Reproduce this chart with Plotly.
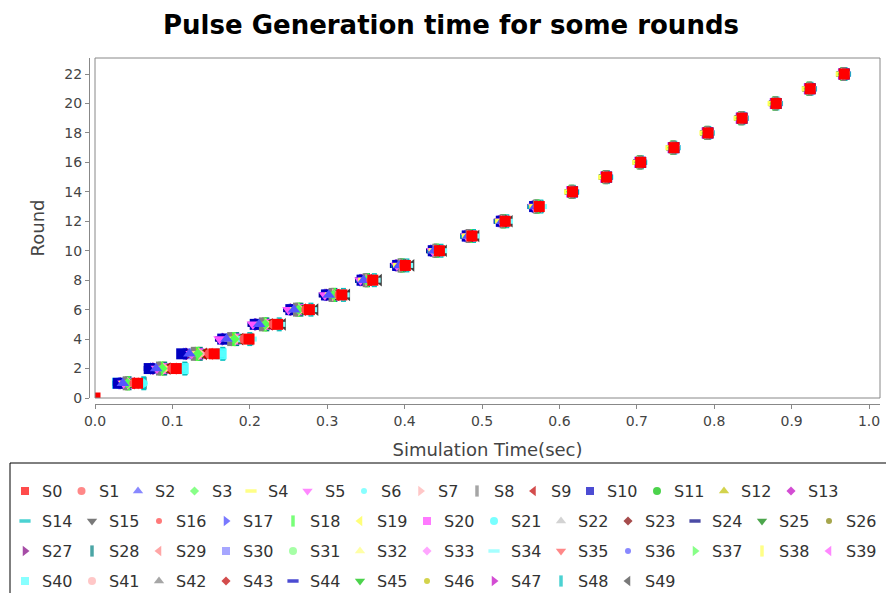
import plotly.graph_objects as go

W, H = 886, 593

# ---------------- data (pulse times in milliseconds) ----------------
series_names = ["S0", "S1", "S2", "S3", "S4", "S5", "S6", "S7", "S8", "S9",
                "S10", "S11", "S12", "S13", "S14", "S15", "S16", "S17", "S18", "S19",
                "S20", "S21", "S22", "S23", "S24", "S25", "S26", "S27", "S28", "S29",
                "S30", "S31", "S32", "S33", "S34", "S35", "S36", "S37", "S38", "S39",
                "S40", "S41", "S42", "S43", "S44", "S45", "S46", "S47", "S48", "S49"]

s0_rounds = list(range(0, 23))      # S0 also fires at round 0
other_rounds = list(range(1, 23))

pulse_ms = {
    "S0":  [0, 55, 105, 154, 199, 236, 277, 319, 359, 401, 445, 487, 530, 574, 617, 661, 705, 748, 792, 836, 880, 924, 968],
    "S1":  [51, 100, 148, 193, 231, 273, 316, 357, 399, 444, 486, 529, 573, 617, 661, 705, 748, 792, 836, 880, 924, 968],
    "S2":  [36, 79, 122, 170, 212, 257, 302, 347, 393, 438, 482, 526, 569, 617, 661, 705, 748, 792, 836, 880, 924, 968],
    "S3":  [42, 87, 133, 180, 220, 263, 308, 351, 396, 440, 483, 527, 570, 615, 659, 703, 746, 790, 834, 878, 922, 966],
    "S4":  [40, 84, 129, 176, 217, 261, 306, 349, 394, 440, 483, 526, 570, 615, 659, 703, 746, 790, 834, 878, 922, 966],
    "S5":  [37, 80, 125, 161, 204, 250, 297, 343, 390, 436, 480, 524, 567, 617, 661, 705, 748, 792, 836, 880, 924, 968],
    "S6":  [63, 115, 164, 188, 237, 278, 320, 360, 402, 446, 488, 531, 575, 618, 662, 706, 749, 793, 837, 881, 925, 969],
    "S7":  [45, 91, 137, 184, 223, 266, 310, 353, 397, 441, 484, 528, 571, 616, 660, 704, 747, 791, 835, 879, 923, 967],
    "S8":  [39, 82, 127, 174, 215, 259, 305, 349, 394, 439, 482, 526, 569, 616, 660, 704, 747, 791, 835, 879, 923, 967],
    "S9":  [48, 94, 141, 188, 226, 269, 312, 354, 398, 442, 485, 528, 572, 616, 660, 704, 747, 791, 835, 879, 923, 967],
    "S10": [30, 70, 112, 165, 207, 253, 299, 345, 391, 437, 481, 525, 568, 617, 661, 705, 748, 792, 836, 880, 924, 968],
    "S11": [49, 96, 143, 190, 228, 270, 314, 355, 398, 443, 485, 528, 572, 616, 660, 704, 747, 791, 835, 879, 923, 967],
    "S12": [41, 86, 131, 178, 218, 262, 307, 350, 395, 440, 483, 527, 570, 615, 659, 703, 746, 790, 834, 878, 922, 966],
    "S13": [44, 89, 135, 182, 222, 265, 309, 352, 396, 441, 484, 527, 571, 616, 660, 704, 747, 791, 835, 879, 923, 967],
    "S14": [35, 77, 120, 169, 210, 255, 301, 346, 392, 438, 481, 525, 568, 616, 660, 704, 747, 791, 835, 879, 923, 967],
    "S15": [46, 93, 139, 186, 225, 268, 311, 353, 397, 442, 485, 528, 572, 616, 660, 704, 747, 791, 835, 879, 923, 967],
    "S16": [52, 101, 150, 195, 233, 274, 317, 357, 400, 444, 486, 529, 573, 617, 661, 705, 748, 792, 836, 880, 924, 968],
    "S17": [34, 75, 118, 167, 209, 254, 300, 345, 392, 437, 481, 525, 568, 616, 660, 704, 747, 791, 835, 879, 923, 967],
    "S18": [42, 85, 132, 179, 219, 262, 308, 351, 395, 441, 484, 527, 571, 615, 659, 703, 746, 790, 834, 878, 922, 966],
    "S19": [38, 81, 124, 173, 213, 259, 303, 349, 394, 438, 483, 526, 570, 616, 660, 704, 747, 791, 835, 879, 923, 967],
    "S20": [43, 88, 134, 181, 221, 264, 309, 351, 396, 441, 484, 527, 571, 616, 660, 704, 747, 791, 835, 879, 923, 967],
    "S21": [61, 113, 162, 199, 236, 277, 319, 359, 401, 445, 487, 530, 574, 617, 661, 705, 748, 792, 836, 880, 924, 968],
    "S22": [46, 91, 138, 185, 224, 267, 311, 353, 397, 442, 485, 528, 572, 616, 660, 704, 747, 791, 835, 879, 923, 967],
    "S23": [50, 98, 146, 191, 230, 272, 315, 356, 399, 443, 486, 529, 573, 616, 660, 704, 747, 791, 835, 879, 923, 967],
    "S24": [32, 73, 116, 165, 207, 253, 299, 345, 391, 437, 481, 525, 568, 616, 660, 704, 747, 791, 835, 879, 923, 967],
    "S25": [40, 85, 130, 177, 217, 260, 307, 350, 395, 440, 483, 527, 570, 616, 660, 704, 747, 791, 835, 879, 923, 967],
    "S26": [48, 95, 142, 188, 227, 270, 313, 355, 398, 443, 486, 529, 573, 616, 660, 704, 747, 791, 835, 879, 923, 967],
    "S27": [36, 78, 121, 168, 211, 256, 302, 347, 393, 437, 482, 526, 569, 616, 660, 704, 747, 791, 835, 879, 923, 967],
    "S28": [44, 90, 136, 183, 222, 266, 310, 352, 397, 441, 484, 528, 571, 616, 660, 704, 747, 791, 835, 879, 923, 967],
    "S29": [53, 102, 149, 196, 233, 275, 318, 358, 400, 445, 487, 530, 574, 617, 661, 705, 748, 792, 836, 880, 924, 968],
    "S30": [35, 76, 120, 169, 211, 255, 301, 346, 392, 438, 481, 525, 568, 616, 660, 704, 747, 791, 835, 879, 923, 967],
    "S31": [45, 92, 137, 184, 224, 266, 311, 354, 398, 441, 485, 529, 571, 615, 659, 703, 746, 790, 834, 878, 922, 966],
    "S32": [38, 83, 128, 175, 216, 260, 305, 350, 394, 440, 483, 527, 570, 616, 660, 704, 747, 791, 835, 879, 923, 967],
    "S33": [41, 87, 131, 177, 218, 263, 307, 350, 396, 440, 483, 528, 570, 616, 660, 704, 747, 791, 835, 879, 923, 967],
    "S34": [59, 110, 159, 200, 237, 278, 320, 360, 402, 446, 488, 531, 575, 617, 661, 705, 748, 792, 836, 880, 924, 968],
    "S35": [38, 80, 126, 172, 215, 258, 304, 348, 393, 439, 482, 527, 569, 616, 660, 704, 747, 791, 835, 879, 923, 967],
    "S36": [33, 76, 118, 166, 208, 254, 300, 346, 392, 437, 481, 525, 568, 616, 660, 704, 747, 791, 835, 879, 923, 967],
    "S37": [47, 93, 140, 187, 225, 268, 312, 354, 398, 442, 485, 529, 572, 615, 659, 703, 746, 790, 834, 878, 922, 966],
    "S38": [42, 88, 133, 179, 220, 264, 308, 352, 397, 441, 484, 528, 571, 616, 660, 704, 747, 791, 835, 879, 923, 967],
    "S39": [37, 78, 123, 171, 211, 256, 303, 347, 392, 439, 482, 525, 569, 616, 660, 704, 747, 791, 835, 879, 923, 967],
    "S40": [29, 114, 163, 186, 235, 276, 318, 358, 400, 444, 486, 529, 573, 617, 661, 705, 748, 792, 836, 880, 924, 968],
    "S41": [47, 94, 141, 189, 226, 269, 312, 354, 399, 442, 485, 528, 572, 616, 660, 704, 747, 791, 835, 879, 923, 967],
    "S42": [50, 99, 145, 192, 230, 272, 316, 356, 400, 444, 486, 529, 573, 617, 661, 705, 748, 792, 836, 880, 924, 968],
    "S43": [52, 101, 151, 195, 234, 274, 317, 357, 401, 444, 487, 530, 573, 617, 661, 705, 748, 792, 836, 880, 924, 968],
    "S44": [32, 72, 115, 164, 206, 252, 298, 345, 390, 437, 481, 524, 568, 616, 660, 704, 747, 791, 835, 879, 923, 967],
    "S45": [45, 89, 135, 182, 223, 265, 310, 353, 396, 442, 485, 527, 572, 616, 660, 704, 747, 791, 835, 879, 923, 967],
    "S46": [49, 97, 144, 190, 229, 271, 314, 356, 399, 443, 486, 529, 573, 617, 661, 705, 748, 792, 836, 880, 924, 968],
    "S47": [35, 78, 120, 168, 210, 256, 301, 346, 391, 438, 481, 524, 568, 616, 660, 704, 747, 791, 835, 879, 923, 967],
    "S48": [63, 116, 165, 200, 238, 279, 321, 361, 403, 447, 489, 532, 576, 618, 662, 706, 749, 793, 837, 881, 925, 969],
    "S49": [63, 116, 165, 201, 243, 285, 326, 367, 409, 451, 493, 536, 576, 617, 661, 705, 748, 792, 836, 880, 924, 968],
}

series_colors = ["#FF0000", "#FF5555", "#5555FF", "#55FF55", "#FFFF55", "#FF55FF", "#55FFFF", "#FFAFAF", "#808080", "#C00000",
                 "#0000C0", "#00C000", "#C0C000", "#C000C0", "#00C0C0", "#404040", "#FF4040", "#4040FF", "#40FF40", "#FFFF40",
                 "#FF40FF", "#40FFFF", "#C0C0C0", "#800000", "#000080", "#008000", "#808000", "#800080", "#008080", "#FF8080",
                 "#8080FF", "#80FF80", "#FFFF80", "#FF80FF", "#80FFFF", "#FF5555", "#5555FF", "#55FF55", "#FFFF55", "#FF55FF",
                 "#55FFFF", "#FFAFAF", "#808080", "#C00000", "#0000C0", "#00C000", "#C0C000", "#C000C0", "#00C0C0", "#404040"]

shape_cycle = ["square", "circle", "tri-up", "diamond", "hbar", "tri-down", "ellipse", "tri-right", "vbar", "tri-left"]

x_ticks = [0.0, 0.1, 0.2, 0.3, 0.4, 0.5, 0.6, 0.7, 0.8, 0.9, 1.0]
x_tick_text = ["0.0", "0.1", "0.2", "0.3", "0.4", "0.5", "0.6", "0.7", "0.8", "0.9", "1.0"]
y_ticks = [0, 2, 4, 6, 8, 10, 12, 14, 16, 18, 20, 22]

legend_rows = [series_names[0:14], series_names[14:27], series_names[27:40], series_names[40:50]]

# ---------------- styles ----------------
# kind -> (plotly symbol, plot size, legend size, line-symbol?)
STYLE = {
    "square":    ("square", 11, 8, False),
    "circle":    ("circle", 10, 8, False),
    "tri-up":    ("triangle-up", 11, 9, False),
    "diamond":   ("diamond", 8, 7, False),
    "hbar":      ("line-ew", 10, 8, True),
    "tri-down":  ("triangle-down", 11, 9, False),
    "ellipse":   ("circle", 7, 6, False),
    "tri-right": ("triangle-right", 11, 9, False),
    "vbar":      ("line-ns", 10, 8, True),
    "tri-left":  ("triangle-left", 11, 9, False),
}

FONT = "DejaVu Sans"

fig = go.Figure()

# JFreeChart paints series 0 last (on top) -> add traces in reverse order
for i in range(len(series_names) - 1, -1, -1):
    name = series_names[i]
    kind = shape_cycle[i % len(shape_cycle)]
    sym, size, _, is_line = STYLE[kind]
    col = series_colors[i]
    xs = [v / 1000.0 for v in pulse_ms[name]]
    ys = s0_rounds if name == "S0" else other_rounds
    marker = dict(symbol=sym, size=size, color=col)
    marker["line"] = dict(color=col, width=5) if is_line else dict(width=0)
    fig.add_trace(go.Scatter(x=xs, y=ys, mode="markers", name=name, marker=marker,
                             showlegend=False, cliponaxis=True, xaxis="x", yaxis="y"))

# ---------------- JFreeChart-style legend box (drawn with a helper subplot) ----------------
LEG_TOP = 463
row_y = [491, 521, 551, 581]
leg_x, leg_y, leg_sym, leg_size, leg_col, leg_lw = [], [], [], [], [], []
annotations = []
for r, row in enumerate(legend_rows):
    mx = 25.0
    for name in row:
        i = series_names.index(name)
        kind = shape_cycle[i % len(shape_cycle)]
        sym, _, lsize, is_line = STYLE[kind]
        leg_x.append(mx)
        leg_y.append(row_y[r])
        leg_sym.append(sym)
        leg_size.append(lsize)
        leg_col.append(series_colors[i])
        leg_lw.append(3.5 if is_line else 0)
        annotations.append(dict(x=(mx + 15) / W, y=1 - row_y[r] / H, xref="paper", yref="paper",
                                text=name, showarrow=False, xanchor="left", yanchor="middle",
                                font=dict(family=FONT, size=16, color="#333333")))
        mx += 35.5 + 10.5 * len(name)

fig.add_trace(go.Scatter(x=leg_x, y=leg_y, mode="markers", showlegend=False, hoverinfo="skip",
                         marker=dict(symbol=leg_sym, size=leg_size, color=leg_col,
                                     line=dict(color=leg_col, width=leg_lw)),
                         xaxis="x2", yaxis="y2", cliponaxis=False))

# ---------------- layout ----------------
PL, PR, PT, PB = 95, 880, 58, 398
x0_px, x1_px = 95, 869          # pixel of 0.0 and 1.0
y0_px, y22_px = 398, 74         # pixel of 0 and 22
xmax = (PR - x0_px) / (x1_px - x0_px)
ymax = (y0_px - PT) / ((y0_px - y22_px) / 22.0)

fig.update_layout(
    width=W, height=H,
    margin=dict(l=0, r=0, t=0, b=0, autoexpand=False),
    paper_bgcolor="white", plot_bgcolor="white",
    showlegend=False,
    title=dict(text="<b>Pulse Generation time for some rounds</b>", x=451 / W, xanchor="center",
               y=1 - 25 / H, yanchor="middle", font=dict(family=FONT, size=26, color="black")),
    xaxis=dict(domain=[PL / W, PR / W], range=[0, xmax], anchor="free", position=(H - 404) / H,
               automargin=False,
               tickvals=x_ticks, ticktext=x_tick_text, ticks="outside", ticklen=4, tickcolor="#888888",
               showline=True, linecolor="#888888", linewidth=1, showgrid=False, zeroline=False,
               tickfont=dict(family=FONT, size=14, color="#444444"),
               title=dict(text="Simulation Time(sec)", standoff=15,
                          font=dict(family=FONT, size=18, color="#444444"))),
    yaxis=dict(domain=[(H - PB) / H, (H - PT) / H], range=[0, ymax], anchor="free", position=89 / W,
               automargin=False,
               tickvals=y_ticks, ticks="outside", ticklen=4, tickcolor="#888888",
               showline=True, linecolor="#888888", linewidth=1, showgrid=False, zeroline=False,
               tickfont=dict(family=FONT, size=14, color="#444444"),
               title=dict(text="Round", standoff=14,
                          font=dict(family=FONT, size=18, color="#444444"))),
    xaxis2=dict(domain=[0, 1], range=[0, W], visible=False, fixedrange=True, anchor="y2", automargin=False),
    yaxis2=dict(domain=[0, (H - LEG_TOP) / H], range=[H, LEG_TOP], visible=False, fixedrange=True,
                anchor="x2", automargin=False),
    annotations=annotations,
    shapes=[
        dict(type="rect", xref="x domain", yref="y domain", x0=0, x1=1, y0=0, y1=1,
             line=dict(color="#888888", width=1), fillcolor="rgba(0,0,0,0)", layer="above"),
        # legend frame: top and left edges only (the box runs past the bottom/right picture edges)
        dict(type="line", xref="paper", yref="paper", x0=10 / W, x1=1, y0=1 - LEG_TOP / H, y1=1 - LEG_TOP / H,
             line=dict(color="black", width=1)),
        dict(type="line", xref="paper", yref="paper", x0=10 / W, x1=10 / W, y0=0, y1=1 - LEG_TOP / H,
             line=dict(color="black", width=1)),
    ],
)

# the page body has a default 8px margin; remove it so the figure sits at the window origin
fig.write_html("out.html", config={"displayModeBar": False},
               post_script="document.body.style.margin='0';document.body.style.overflow='hidden';")
